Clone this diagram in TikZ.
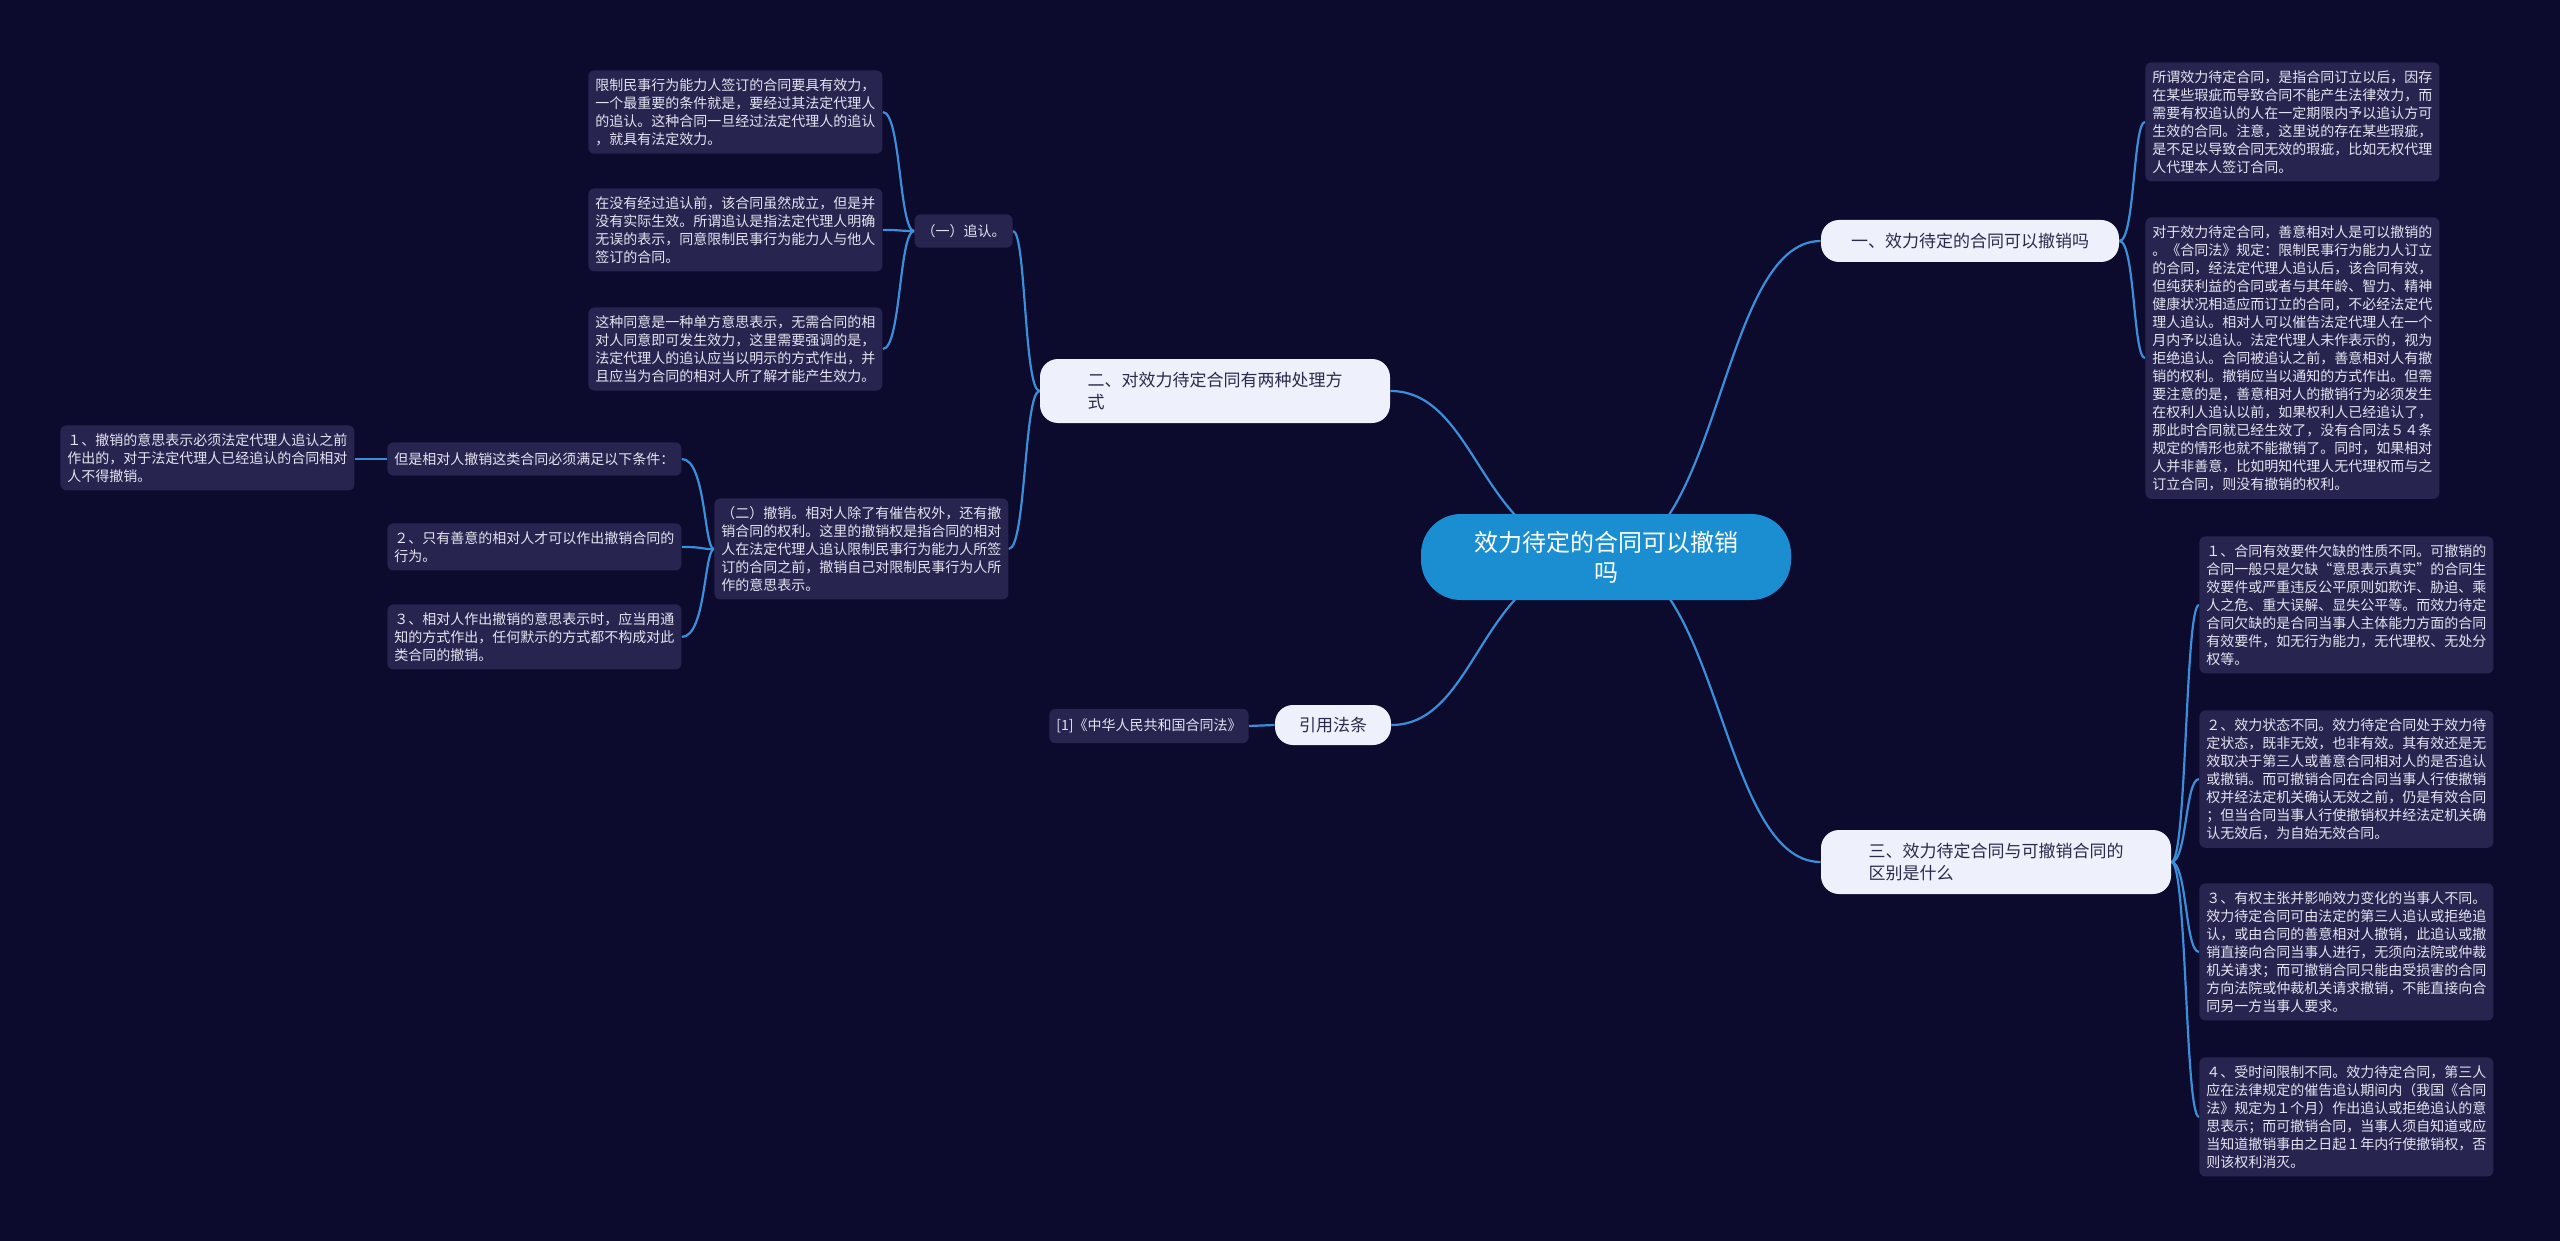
\documentclass[tikz,border=0pt]{standalone}
\usepackage{fontspec}
\newfontfamily\cjk{Noto Sans CJK SC}
\pgfdeclarelayer{bg}
\pgfdeclarelayer{canvas}
\pgfsetlayers{canvas,bg,main}
\definecolor{bgc}{HTML}{0C0A2D}
\definecolor{leafc}{HTML}{27254F}
\definecolor{linec}{HTML}{3A8FD8}
\definecolor{centc}{HTML}{1B8ED1}
\definecolor{brc}{HTML}{EEF1FB}
\definecolor{brt}{HTML}{2A2A4A}
\definecolor{leaft}{HTML}{E4E4F2}
\begin{document}
\begin{tikzpicture}[x=0.5pt,y=-0.5pt,
 leaf/.style={fill=leafc,rounded corners=3pt,text=leaft,font=\cjk\fontsize{7}{9}\selectfont,inner xsep=3.5pt,inner ysep=4pt,align=left,anchor=north west},
 br/.style={fill=brc,rounded corners=9pt,text=brt,font=\cjk\fontsize{8.5}{11}\selectfont,inner xsep=8pt,inner ysep=4pt,align=left},
 c/.style={draw=linec,line width=1.1pt}]
\useasboundingbox (0,0) rectangle (2560,1241);
\begin{pgfonlayer}{canvas}
\fill[bgc] (0,0) rectangle (2560,1241);
\end{pgfonlayer}
\node[fill=centc,rounded corners=20pt,text=white,font=\cjk\fontsize{12}{15}\selectfont,minimum width=185pt,minimum height=43pt,align=center] (C) at (1606,557) {效力待定的合同可以撤销\\吗};
\node[br,minimum width=149pt,minimum height=21pt] (B1) at (1970,241) {一、效力待定的合同可以撤销吗};
\node[br,minimum width=175pt,minimum height=32pt] (B2) at (1215,391) {二、对效力待定合同有两种处理方\\式};
\node[br,minimum width=175pt,minimum height=32pt] (B3) at (1996,862) {三、效力待定合同与可撤销合同的\\区别是什么};
\node[br,minimum width=58pt,minimum height=20pt,align=center] (B4) at (1333,725) {引用法条};
% right 1
\node[leaf] (R1) at (2145,62) {所谓效力待定合同，是指合同订立以后，因存\\在某些瑕疵而导致合同不能产生法律效力，而\\需要有权追认的人在一定期限内予以追认方可\\生效的合同。注意，这里说的存在某些瑕疵，\\是不足以导致合同无效的瑕疵，比如无权代理\\人代理本人签订合同。};
\node[leaf] (R2) at (2145,217) {对于效力待定合同，善意相对人是可以撤销的\\。《合同法》规定：限制民事行为能力人订立\\的合同，经法定代理人追认后，该合同有效，\\但纯获利益的合同或者与其年龄、智力、精神\\健康状况相适应而订立的合同，不必经法定代\\理人追认。相对人可以催告法定代理人在一个\\月内予以追认。法定代理人未作表示的，视为\\拒绝追认。合同被追认之前，善意相对人有撤\\销的权利。撤销应当以通知的方式作出。但需\\要注意的是，善意相对人的撤销行为必须发生\\在权利人追认以前，如果权利人已经追认了，\\那此时合同就已经生效了，没有合同法５４条\\规定的情形也就不能撤销了。同时，如果相对\\人并非善意，比如明知代理人无代理权而与之\\订立合同，则没有撤销的权利。};
% right 3
\node[leaf] (S1) at (2199,536) {１、合同有效要件欠缺的性质不同。可撤销的\\合同一般只是欠缺“意思表示真实”的合同生\\效要件或严重违反公平原则如欺诈、胁迫、乘\\人之危、重大误解、显失公平等。而效力待定\\合同欠缺的是合同当事人主体能力方面的合同\\有效要件，如无行为能力，无代理权、无处分\\权等。};
\node[leaf] (S2) at (2199,710) {２、效力状态不同。效力待定合同处于效力待\\定状态，既非无效，也非有效。其有效还是无\\效取决于第三人或善意合同相对人的是否追认\\或撤销。而可撤销合同在合同当事人行使撤销\\权并经法定机关确认无效之前，仍是有效合同\\；但当合同当事人行使撤销权并经法定机关确\\认无效后，为自始无效合同。};
\node[leaf] (S3) at (2199,883) {３、有权主张并影响效力变化的当事人不同。\\效力待定合同可由法定的第三人追认或拒绝追\\认，或由合同的善意相对人撤销，此追认或撤\\销直接向合同当事人进行，无须向法院或仲裁\\机关请求；而可撤销合同只能由受损害的合同\\方向法院或仲裁机关请求撤销，不能直接向合\\同另一方当事人要求。};
\node[leaf] (S4) at (2199,1057) {４、受时间限制不同。效力待定合同，第三人\\应在法律规定的催告追认期间内（我国《合同\\法》规定为１个月）作出追认或拒绝追认的意\\思表示；而可撤销合同，当事人须自知道或应\\当知道撤销事由之日起１年内行使撤销权，否\\则该权利消灭。};
% left
\node[leaf,anchor=east,inner ysep=5pt] (L1) at (1013,231) {（一）追认。};
\node[leaf] (A1) at (588,70) {限制民事行为能力人签订的合同要具有效力，\\一个最重要的条件就是，要经过其法定代理人\\的追认。这种合同一旦经过法定代理人的追认\\，就具有法定效力。};
\node[leaf] (A2) at (588,188) {在没有经过追认前，该合同虽然成立，但是并\\没有实际生效。所谓追认是指法定代理人明确\\无误的表示，同意限制民事行为能力人与他人\\签订的合同。};
\node[leaf] (A3) at (588,307) {这种同意是一种单方意思表示，无需合同的相\\对人同意即可发生效力，这里需要强调的是，\\法定代理人的追认应当以明示的方式作出，并\\且应当为合同的相对人所了解才能产生效力。};
\node[leaf] (L2) at (714,498) {（二）撤销。相对人除了有催告权外，还有撤\\销合同的权利。这里的撤销权是指合同的相对\\人在法定代理人追认限制民事行为能力人所签\\订的合同之前，撤销自己对限制民事行为人所\\作的意思表示。};
\node[leaf,anchor=west,inner ysep=5pt] (D0) at (387,459) {但是相对人撤销这类合同必须满足以下条件：};
\node[leaf] (D1) at (60,425) {１、撤销的意思表示必须法定代理人追认之前\\作出的，对于法定代理人已经追认的合同相对\\人不得撤销。};
\node[leaf] (D2) at (387,523) {２、只有善意的相对人才可以作出撤销合同的\\行为。};
\node[leaf] (D3) at (387,604) {３、相对人作出撤销的意思表示时，应当用通\\知的方式作出，任何默示的方式都不构成对此\\类合同的撤销。};
\node[leaf,anchor=east,inner ysep=5pt] (Q1) at (1249,726) {[1]《中华人民共和国合同法》};
\begin{pgfonlayer}{bg}
\draw[c] (C.center) .. controls (1720,557) and (1720,241) .. (B1.west);
\draw[c] (C.center) .. controls (1720,557) and (1720,862) .. (B3.west);
\draw[c] (C.center) .. controls (1480,557) and (1480,391) .. (B2.east);
\draw[c] (C.center) .. controls (1480,557) and (1480,725) .. (B4.east);
\foreach \n in {R1,R2} \draw[c] (B1.east) .. controls (2135,241) and (2133,0|-\n.west) .. (\n.west);
\foreach \n in {S1,S2,S3,S4} \draw[c] (B3.east) .. controls (2187,862) and (2185,0|-\n.west) .. (\n.west);
\foreach \n in {L1,L2} \draw[c] (B2.west) .. controls (1024,391) and (1026,0|-\n.east) .. (\n.east);
\foreach \n in {A1,A2,A3} \draw[c] (L1.west) .. controls (899,231) and (901,0|-\n.east) .. (\n.east);
\foreach \n in {D0,D2,D3} \draw[c] (L2.west) .. controls (704,550) and (706,0|-\n.east) .. (\n.east);
\draw[c] (D0.west) -- (D1.east|-D0.west);
\draw[c] (B4.west) -- (Q1.east);
\end{pgfonlayer}
\end{tikzpicture}
\end{document}
